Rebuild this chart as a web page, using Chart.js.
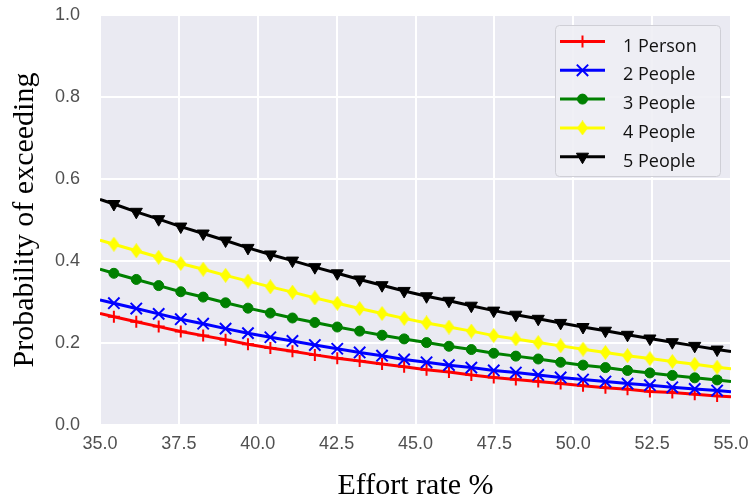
<!DOCTYPE html>
<html>
<head>
<meta charset="utf-8">
<script src="https://cdn.jsdelivr.net/npm/chart.js@4.4.1/dist/chart.umd.min.js"></script>
<style>
  body { margin: 0; background: #fff; }
  #main-chart { display: block; }
</style>
</head>
<body>
<canvas id="main-chart" width="751" height="501"></canvas>
<script>
// effort rate (%) where each curve has a point; first and last are the line ends only
const effortRate = [35, 35.44, 36.15, 36.86, 37.56, 38.27, 38.98, 39.69, 40.40, 41.10,
  41.81, 42.52, 43.23, 43.94, 44.64, 45.35, 46.06, 46.77, 47.48, 48.18,
  48.89, 49.60, 50.31, 51.02, 51.72, 52.43, 53.14, 53.85, 54.56, 55];

const onePerson = [0.272, 0.264, 0.252, 0.240, 0.228, 0.218, 0.208, 0.197, 0.188, 0.180,
  0.171, 0.163, 0.156, 0.149, 0.142, 0.135, 0.129, 0.122, 0.116, 0.111,
  0.106, 0.101, 0.096, 0.091, 0.087, 0.082, 0.079, 0.075, 0.071, 0.069];
const twoPeople = [0.305, 0.297, 0.284, 0.271, 0.258, 0.247, 0.235, 0.224, 0.214, 0.205,
  0.195, 0.186, 0.177, 0.169, 0.160, 0.153, 0.146, 0.140, 0.133, 0.128,
  0.122, 0.116, 0.111, 0.106, 0.101, 0.097, 0.092, 0.088, 0.084, 0.081];
const threePeople = [0.380, 0.370, 0.355, 0.340, 0.325, 0.312, 0.298, 0.285, 0.273, 0.261,
  0.250, 0.239, 0.229, 0.219, 0.210, 0.201, 0.192, 0.184, 0.175, 0.168,
  0.161, 0.153, 0.146, 0.140, 0.133, 0.127, 0.121, 0.115, 0.110, 0.106];
const fourPeople = [0.451, 0.441, 0.425, 0.409, 0.394, 0.380, 0.365, 0.351, 0.337, 0.324,
  0.310, 0.297, 0.284, 0.272, 0.260, 0.249, 0.239, 0.229, 0.218, 0.210,
  0.201, 0.193, 0.185, 0.177, 0.169, 0.162, 0.155, 0.148, 0.141, 0.137];
const fivePeople = [0.550, 0.539, 0.520, 0.502, 0.484, 0.467, 0.450, 0.432, 0.416, 0.401,
  0.385, 0.370, 0.355, 0.341, 0.327, 0.314, 0.303, 0.291, 0.279, 0.269,
  0.259, 0.249, 0.239, 0.230, 0.220, 0.211, 0.202, 0.193, 0.184, 0.179];

const seriesNames = ["1 Person", "2 People", "3 People", "4 People", "5 People"];
const xTicks = [35, 37.5, 40, 42.5, 45, 47.5, 50, 52.5, 55];
const yTicks = [0, 0.2, 0.4, 0.6, 0.8, 1.0];

// thin diamond marker like matplotlib 'd'
function thinDiamond(color) {
  const c = document.createElement("canvas");
  c.width = 11;
  c.height = 15;
  const g = c.getContext("2d");
  g.fillStyle = color;
  g.beginPath();
  g.moveTo(5.5, 0);
  g.lineTo(11, 7.5);
  g.lineTo(5.5, 15);
  g.lineTo(0, 7.5);
  g.closePath();
  g.fill();
  return c;
}

const styles = [
  { color: "#ff0000", pointStyle: "cross", radius: 6, pw: 2, rot: 0 },
  { color: "#0000ff", pointStyle: "crossRot", radius: 8, pw: 2, rot: 0 },
  { color: "#008000", pointStyle: "circle", radius: 5, pw: 1, rot: 0 },
  { color: "#ffff00", pointStyle: thinDiamond("#ffff00"), radius: 6, pw: 1, rot: 0 },
  { color: "#000000", pointStyle: "triangle", radius: 7, pw: 1, rot: 180 },
];

const allSeries = [onePerson, twoPeople, threePeople, fourPeople, fivePeople];
const lastIdx = effortRate.length - 1;

const datasets = allSeries.map((vals, i) => ({
  label: seriesNames[i],
  data: vals.map((v, k) => ({ x: effortRate[k], y: v })),
  borderColor: styles[i].color,
  backgroundColor: styles[i].color,
  borderWidth: 3,
  pointStyle: styles[i].pointStyle,
  pointRotation: styles[i].rot,
  pointBorderWidth: styles[i].pw,
  pointRadius: (c) => (c.dataIndex === 0 || c.dataIndex === lastIdx ? 0 : styles[i].radius),
  pointHoverRadius: styles[i].radius,
  tension: 0,
  order: 4 - i,
}));

const plotBackground = {
  id: "plotBackground",
  beforeDraw(chart) {
    const { ctx, chartArea } = chart;
    ctx.save();
    ctx.fillStyle = "#eaeaf2";
    ctx.fillRect(chartArea.left, chartArea.top, chartArea.right - chartArea.left, chartArea.bottom - chartArea.top);
    ctx.restore();
  },
};

const lineLegend = {
  id: "lineLegend",
  afterDraw(chart) {
    const ctx = chart.ctx;
    const bx = 555, by = 25, bw = 165, bh = 151;
    ctx.save();
    ctx.fillStyle = "rgba(238,238,244,0.9)";
    ctx.strokeStyle = "#cfcfd6";
    ctx.lineWidth = 1;
    ctx.beginPath();
    ctx.roundRect(bx + 0.5, by + 0.5, bw, bh, 4);
    ctx.fill();
    ctx.stroke();
    seriesNames.forEach((name, i) => {
      const y = 41.5 + i * 28.8;
      const s = styles[i];
      ctx.strokeStyle = s.color;
      ctx.lineWidth = 3;
      ctx.beginPath();
      ctx.moveTo(560, y);
      ctx.lineTo(605, y);
      ctx.stroke();
      ctx.fillStyle = s.color;
      ctx.strokeStyle = s.color;
      ctx.lineWidth = s.pw;
      Chart.helpers.drawPoint(ctx, { pointStyle: s.pointStyle, rotation: s.rot, radius: s.radius, borderWidth: s.pw }, 582.5, y);
      ctx.fillStyle = "#111";
      ctx.font = "18px 'Open Sans', 'Noto Sans', sans-serif";
      ctx.textAlign = "left";
      ctx.textBaseline = "middle";
      ctx.fillText(name, 623, y + 5);
    });
    ctx.restore();
  },
};

new Chart(document.getElementById("main-chart"), {
  type: "line",
  data: { datasets },
  plugins: [plotBackground, lineLegend],
  options: {
    responsive: false,
    animation: false,
    layout: { padding: { top: 15, right: 20, left: 0, bottom: 0 } },
    scales: {
      x: {
        type: "linear",
        min: 35,
        max: 55,
        afterBuildTicks: (axis) => { axis.ticks = xTicks.map((v) => ({ value: v })); },
        afterFit: (axis) => { axis.height = 76; axis.paddingLeft = 0; axis.paddingRight = 0; },
        border: { display: false },
        grid: { color: "#ffffff", lineWidth: 2, drawTicks: false },
        ticks: {
          padding: 8,
          color: "#505050",
          font: { family: "'Liberation Sans', Arial, sans-serif", size: 18 },
          callback: (v) => Number(v).toFixed(1),
        },
        title: {
          display: true,
          text: "Effort rate %",
          color: "#000",
          font: { family: "'Liberation Serif', 'Times New Roman', serif", size: 30, lineHeight: 1 },
          padding: { top: 0, bottom: 0 },
        },
      },
      y: {
        min: 0,
        max: 1,
        afterBuildTicks: (axis) => { axis.ticks = yTicks.map((v) => ({ value: v })); },
        afterFit: (axis) => { axis.width = 100; axis.paddingTop = 0; axis.paddingBottom = 0; },
        border: { display: false },
        grid: { color: "#ffffff", lineWidth: 2, drawTicks: false },
        ticks: {
          padding: 20,
          color: "#505050",
          font: { family: "'Liberation Sans', Arial, sans-serif", size: 18 },
          callback: (v) => Number(v).toFixed(1),
        },
        title: {
          display: true,
          text: "Probability of exceeding",
          color: "#000",
          font: { family: "'Liberation Serif', 'Times New Roman', serif", size: 30, lineHeight: 1 },
          padding: { top: 10, bottom: 0 },
        },
      },
    },
    plugins: {
      legend: { display: false },
      tooltip: { enabled: false },
    },
  },
});
</script>
</body>
</html>
